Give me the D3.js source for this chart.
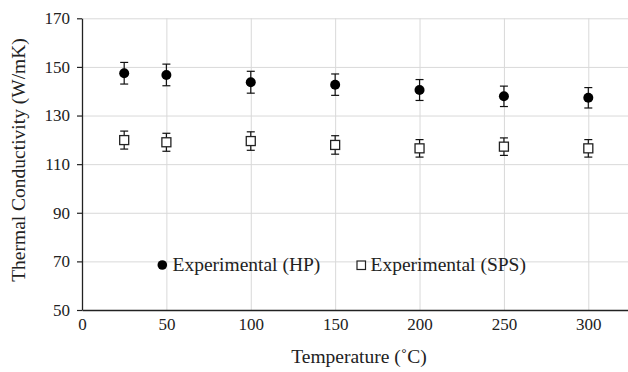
<!DOCTYPE html>
<head>
  <meta charset="utf-8">
  <script src="https://d3js.org/d3.v7.min.js"></script>
  <style>
    body { margin:0; background:#fff; }
    svg, svg text { font-family:"Liberation Serif","Times New Roman","DejaVu Serif",serif !important; }
    .grid line { stroke:#d9d9d9; stroke-width:1px; }
    .grid path { display:none; }
  </style>
</head>
<body>
<script>
  // data
  var temps = [25, 50, 100, 150, 200, 250, 300];
  var hpVals = [147.4, 146.7, 143.7, 142.7, 140.5, 137.9, 137.3];
  var hpErr = [4.45, 4.45, 4.5, 4.4, 4.3, 4.2, 4.2];
  var spsVals = [119.9, 119.0, 119.5, 117.9, 116.5, 117.2, 116.5];
  var spsErr = [3.7, 3.7, 3.8, 3.8, 3.6, 3.6, 3.6];
  var xTicks = [0, 50, 100, 150, 200, 250, 300];
  var yTicks = [50, 70, 90, 110, 130, 150, 170];

  var width = 628, height = 372;
  var svg = d3.select("body").append("svg")
    .attr("width", width)
    .attr("height", height);

  var x = d3.scaleLinear().domain([0, 325]).range([82, 630.5]);
  var y = d3.scaleLinear().domain([50, 170]).range([310, 18.3]);

  // gridlines
  svg.append("g").attr("class", "grid")
    .attr("transform", "translate(82,0)")
    .call(d3.axisLeft(y).tickValues(yTicks.slice(1)).tickSize(-(width - 82)).tickFormat(""));
  svg.append("g").attr("class", "grid")
    .attr("transform", "translate(0,310)")
    .call(d3.axisBottom(x).tickValues(xTicks.slice(1)).tickSize(-(310 - 18.3)).tickFormat(""));

  // y axis
  var yAxis = svg.append("g")
    .attr("transform", "translate(82,0)")
    .call(d3.axisLeft(y).tickValues(yTicks).tickSize(5).tickPadding(7).tickSizeOuter(0));
  yAxis.attr("font-family", null);
  yAxis.select(".domain").attr("stroke", "#222").attr("stroke-width", 1.3);
  yAxis.selectAll(".tick line").attr("stroke", "#222").attr("stroke-width", 1.2);
  yAxis.selectAll("text").attr("font-size", 17).attr("fill", "#222");

  // x axis
  var xAxis = svg.append("g")
    .attr("transform", "translate(0,310)")
    .call(d3.axisBottom(x).tickValues(xTicks).tickSize(0).tickPadding(8).tickSizeOuter(0));
  xAxis.attr("font-family", null);
  xAxis.select(".domain").attr("stroke", "#222").attr("stroke-width", 1.5);
  xAxis.selectAll("text").attr("font-size", 17).attr("fill", "#222");

  // axis titles
  svg.append("text")
    .attr("transform", "translate(25,160) rotate(-90)")
    .attr("text-anchor", "middle")
    .attr("font-size", 19.5)
    .attr("fill", "#222")
    .text("Thermal Conductivity (W/mK)");
  svg.append("text")
    .attr("x", 359).attr("y", 363)
    .attr("text-anchor", "middle")
    .attr("font-size", 19.5)
    .attr("fill", "#222")
    .text("Temperature (˚C)");

  function errorBars(vals, errs) {
    var g = svg.append("g").attr("stroke", "#111").attr("stroke-width", 1.2);
    temps.forEach(function(t, i) {
      var cx = x(t), top = y(vals[i] + errs[i]), bot = y(vals[i] - errs[i]);
      g.append("line").attr("x1", cx).attr("x2", cx).attr("y1", top).attr("y2", bot);
      g.append("line").attr("x1", cx - 4).attr("x2", cx + 4).attr("y1", top).attr("y2", top);
      g.append("line").attr("x1", cx - 4).attr("x2", cx + 4).attr("y1", bot).attr("y2", bot);
    });
  }

  errorBars(hpVals, hpErr);
  errorBars(spsVals, spsErr);

  svg.append("g").selectAll("circle")
    .data(hpVals)
    .enter().append("circle")
    .attr("cx", function(d, i) { return x(temps[i]); })
    .attr("cy", function(d) { return y(d); })
    .attr("r", 5)
    .attr("fill", "#000");

  svg.append("g").selectAll("rect")
    .data(spsVals)
    .enter().append("rect")
    .attr("x", function(d, i) { return x(temps[i]) - 4.5; })
    .attr("y", function(d) { return y(d) - 4.5; })
    .attr("width", 9).attr("height", 9)
    .attr("fill", "#fff")
    .attr("stroke", "#222")
    .attr("stroke-width", 1.3);

  // legend
  var leg = svg.append("g");
  leg.append("circle").attr("cx", 162.3).attr("cy", 265).attr("r", 4.8).attr("fill", "#000");
  leg.append("text").attr("x", 172.5).attr("y", 270.5).attr("font-size", 19.5).attr("fill", "#222")
    .text("Experimental (HP)");
  leg.append("rect").attr("x", 357).attr("y", 261).attr("width", 8.5).attr("height", 8.5)
    .attr("fill", "#fff").attr("stroke", "#222").attr("stroke-width", 1.2);
  leg.append("text").attr("x", 370.5).attr("y", 270.5).attr("font-size", 19.5).attr("fill", "#222")
    .text("Experimental (SPS)");
</script>
</body>
